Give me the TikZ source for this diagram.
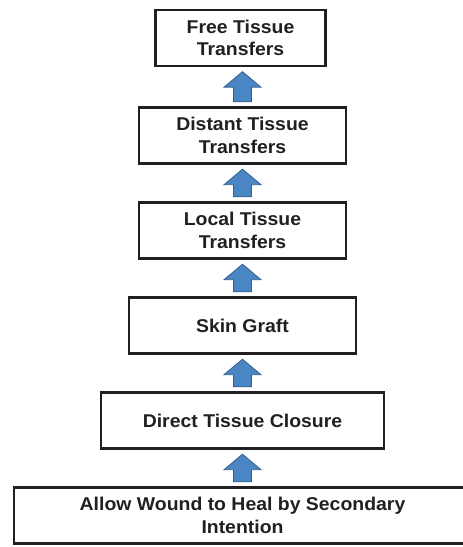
\documentclass[tikz,border=0pt]{standalone}
\usepackage{fontspec}
\setmainfont[FakeStretch=1.05]{Liberation Sans}
\usepackage{tikz}
\usetikzlibrary{calc}

\definecolor{boxline}{RGB}{35,31,32}
\definecolor{arrowfill}{RGB}{74,134,196}
\definecolor{arrowline}{RGB}{52,94,140}

\tikzset{
	level/.style={draw=boxline, line width=2.4pt, fill=white, text=boxline, align=center,
		inner sep=0pt, minimum height=56pt, font=\fontsize{18.5}{22.5}\selectfont\bfseries},
	% block arrow pointing up from the lower box to the upper one
	up/.style={draw=arrowline, line width=0.8pt, fill=arrowfill, to path={
		let \p1=(\tikztostart.north), \p2=(\tikztotarget.south) in
		(\x1-9pt,\y1+4.5pt) -- (\x1-9pt,\y2-20pt) -- (\x1-18.5pt,\y2-20pt) -- (\x1,\y2-4.5pt)
		-- (\x1+18.5pt,\y2-20pt) -- (\x1+9pt,\y2-20pt) -- (\x1+9pt,\y1+4.5pt) -- cycle}}
}

\begin{document}
\begin{tikzpicture}[x=1pt, y=1pt, node distance=95pt]
	\useasboundingbox (0,0) rectangle (463,547);

	\node[level, minimum width=457pt]	(HEAL)	at (242.5,31.5)	{Allow Wound to Heal by Secondary\\Intention};
	\node[level, minimum width=283pt]	(DIRECT)	[above of=HEAL]	{Direct Tissue Closure};
	\node[level, minimum width=227pt]	(GRAFT)	[above of=DIRECT]	{Skin Graft};
	\node[level, minimum width=207pt]	(LOCAL)	[above of=GRAFT]	{Local Tissue\\Transfers};
	\node[level, minimum width=207pt]	(DIST)	[above of=LOCAL]	{Distant Tissue\\Transfers};
	\node[level, minimum width=170pt]	(FREE)	[above of=DIST, xshift=-2pt, yshift=2.5pt]	{Free Tissue\\Transfers};

	\path	(HEAL)	edge[up]	(DIRECT)
			(DIRECT)	edge[up]	(GRAFT)
			(GRAFT)	edge[up]	(LOCAL)
			(LOCAL)	edge[up]	(DIST)
			(DIST)	edge[up]	(FREE);
\end{tikzpicture}
\end{document}
